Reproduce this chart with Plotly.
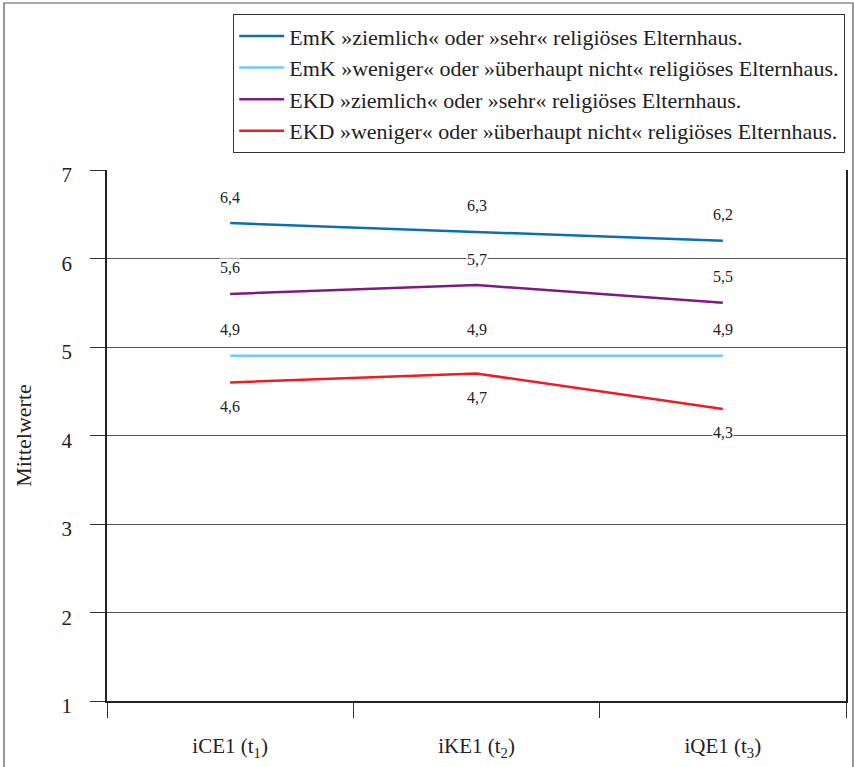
import plotly.graph_objects as go

categories = ["iCE1 (t<sub>1</sub>)", "iKE1 (t<sub>2</sub>)", "iQE1 (t<sub>3</sub>)"]
series_names = [
    "EmK »ziemlich« oder »sehr« religiöses Elternhaus.",
    "EmK »weniger« oder »überhaupt nicht« religiöses Elternhaus.",
    "EKD »ziemlich« oder »sehr« religiöses Elternhaus.",
    "EKD »weniger« oder »überhaupt nicht« religiöses Elternhaus.",
]
emk_high = [6.4, 6.3, 6.2]
emk_low = [4.9, 4.9, 4.9]
ekd_high = [5.6, 5.7, 5.5]
ekd_low = [4.6, 4.7, 4.3]
y_ticks = [1, 2, 3, 4, 5, 6, 7]

series = [emk_high, emk_low, ekd_high, ekd_low]
colors = ["#0a6fb5", "#6fcdf3", "#7b1c7e", "#ec1c24"]
label_below = [False, False, False, True]

FONT = "Liberation Serif"

fig = go.Figure()
for name, vals, col in zip(series_names, series, colors):
    fig.add_trace(go.Scatter(x=categories, y=vals, mode="lines", name=name,
                             line=dict(color=col, width=2.5)))

annotations = []
for vals, below in zip(series, label_below):
    for c, v in zip(categories, vals):
        annotations.append(dict(
            x=c, y=v, xref="x", yref="y",
            text=f"{v:.1f}".replace(".", ","),
            showarrow=False, yshift=-24 if below else 26,
            font=dict(family=FONT, size=16, color="#222"),
            bgcolor="white", borderpad=0,
        ))

L, R, T, B = 107, 846, 170, 701
W, H = 854, 767
pw, ph = R - L, B - T

def px_x(x):
    return (x - L) / pw

def px_y(y):
    return (B - y) / ph

fig.update_layout(
    width=W, height=H,
    margin=dict(l=L, r=W - R, t=T, b=H - B, autoexpand=False),
    paper_bgcolor="white", plot_bgcolor="white",
    font=dict(family=FONT, color="#222"),
    showlegend=True,
    legend=dict(
        x=px_x(845), xanchor="right", y=px_y(14), yanchor="top",
        bordercolor="#333", borderwidth=1.2,
        font=dict(family=FONT, size=22, color="#222"),
        tracegroupgap=0, itemwidth=45,
    ),
    annotations=annotations,
    shapes=[dict(type="rect", xref="paper", yref="paper",
                 x0=px_x(4), x1=px_x(853), y0=px_y(785), y1=px_y(3),
                 line=dict(color="#555", width=1.2), layer="below")],
)

fig.update_xaxes(
    type="category", range=[-0.5, 2.5], tickson="boundaries",
    ticks="outside", ticklen=15, tickcolor="#333", tickwidth=1.2,
    showgrid=False, showline=True, linecolor="#222", linewidth=2.2, mirror=False,
    tickfont=dict(family=FONT, size=21, color="#222"), ticklabelstandoff=25,
)
fig.update_yaxes(
    range=[1, 7], tickvals=y_ticks, ticktext=[str(t) for t in y_ticks],
    ticks="outside", ticklen=15, tickcolor="#333", tickwidth=1.2,
    showgrid=True, gridcolor="#555", gridwidth=1.2,
    showline=True, linecolor="#222", linewidth=1.5, mirror=True,
    zeroline=False,
    tickfont=dict(family=FONT, size=21, color="#222"), ticklabelstandoff=14,
    ticklabelshift=5,
    title=dict(text="Mittelwerte", font=dict(family=FONT, size=22, color="#222"), standoff=24),
)

fig.write_html("out.html", post_script="document.body.style.margin='0';",
               config={"displayModeBar": False})
